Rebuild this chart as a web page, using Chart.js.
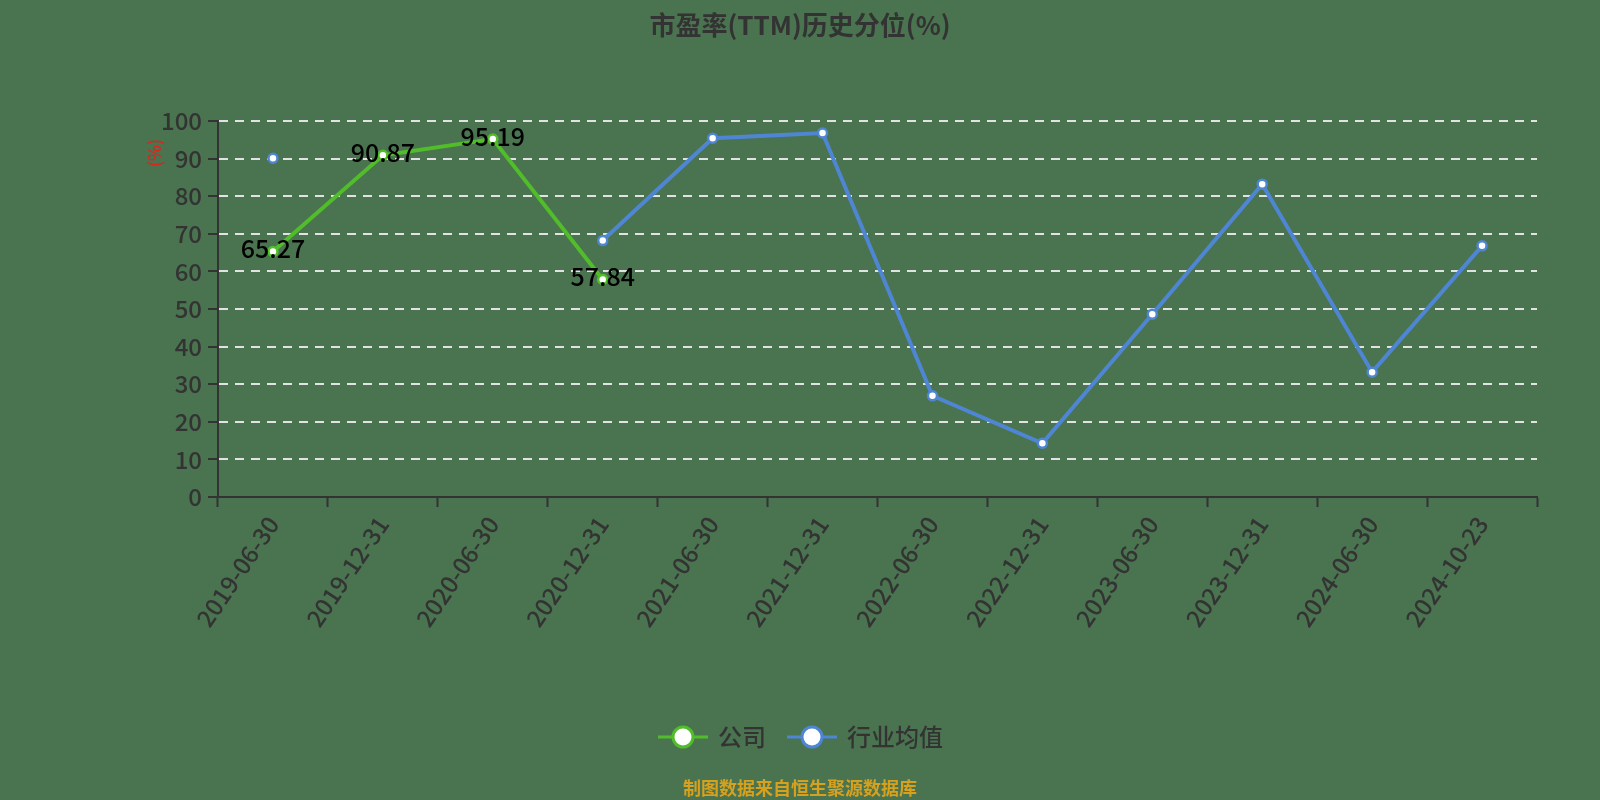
<!DOCTYPE html>
<html>
<head>
<meta charset="utf-8">
<script src="https://cdn.jsdelivr.net/npm/chart.js@4.4.0/dist/chart.umd.min.js"></script>
<style>
  html, body { margin: 0; padding: 0; background: #4a7350; }
  #wrap { width: 1600px; height: 800px; position: relative; }
</style>
</head>
<body>
<div id="wrap"><canvas id="chart"></canvas></div>
<script>
// chart values
const dates = [
  "2019-06-30", "2019-12-31", "2020-06-30", "2020-12-31", "2021-06-30", "2021-12-31",
  "2022-06-30", "2022-12-31", "2023-06-30", "2023-12-31", "2024-06-30", "2024-10-23",
];
const company = [65.27, 90.87, 95.19, 57.84, null, null, null, null, null, null, null, null];
const industry = [90.1, null, null, 68.2, 95.4, 96.8, 26.9, 14.3, 48.6, 83.2, 33.2, 66.8];
const seriesNames = ["公司", "行业均值"];
const yTicks = [0, 10, 20, 30, 40, 50, 60, 70, 80, 90, 100];

const titleText = "市盈率(TTM)历史分位(%)";
const yName = "(%)";
const sourceText = "制图数据来自恒生聚源数据库";

const FONT = '"Noto Sans CJK SC", "Noto Sans", sans-serif';
const GREEN = "#52bd2a";
const BLUE = "#4f86d3";
const DARK = "#333333";

// background, title, axis name, legend, footer and value labels
const decorPlugin = {
  id: "decor",
  beforeDraw: (chart) => {
    const ctx = chart.ctx;
    ctx.save();
    ctx.fillStyle = "#4a7350";
    ctx.fillRect(0, 0, chart.width, chart.height);
    ctx.restore();
  },
  afterDraw: (chart) => {
    const ctx = chart.ctx;
    ctx.save();

    // title
    ctx.fillStyle = DARK;
    ctx.font = `bold 26px ${FONT}`;
    ctx.textAlign = "center";
    ctx.textBaseline = "middle";
    ctx.fillText(titleText, 800, 25);

    // y axis name
    ctx.save();
    ctx.translate(155, 153);
    ctx.rotate(-Math.PI / 2);
    ctx.fillStyle = "#e0231c";
    ctx.font = `500 17px ${FONT}`;
    ctx.fillText(yName, 0, 0);
    ctx.restore();

    // value labels for the company series
    const meta = chart.getDatasetMeta(0);
    ctx.fillStyle = "#000";
    ctx.font = `500 25px ${FONT}`;
    meta.data.forEach((pt, i) => {
      if (company[i] === null) return;
      ctx.fillText(company[i].toFixed(2), pt.x, pt.y - 3);
    });

    // legend
    const items = [
      { name: seriesNames[0], color: GREEN, x: 658 },
      { name: seriesNames[1], color: BLUE, x: 787 },
    ];
    const ly = 737;
    items.forEach((it) => {
      ctx.strokeStyle = it.color;
      ctx.lineWidth = 3;
      ctx.beginPath();
      ctx.moveTo(it.x, ly);
      ctx.lineTo(it.x + 50, ly);
      ctx.stroke();
      ctx.beginPath();
      ctx.arc(it.x + 25, ly, 10, 0, Math.PI * 2);
      ctx.fillStyle = "#fff";
      ctx.fill();
      ctx.lineWidth = 3;
      ctx.stroke();
      ctx.fillStyle = DARK;
      ctx.font = `500 24px ${FONT}`;
      ctx.textAlign = "left";
      ctx.fillText(it.name, it.x + 60, ly);
    });

    // footer
    ctx.fillStyle = "#d6a11f";
    ctx.font = `bold 18px ${FONT}`;
    ctx.textAlign = "center";
    ctx.fillText(sourceText, 800, 788);

    ctx.restore();
  },
};

new Chart(document.getElementById("chart"), {
  type: "line",
  data: {
    labels: dates,
    datasets: [
      {
        label: seriesNames[0],
        data: company,
        borderColor: GREEN,
        backgroundColor: "#fff",
        borderWidth: 4,
        pointRadius: 4.5,
        pointBorderWidth: 2.5,
        pointBackgroundColor: "#fff",
        pointBorderColor: GREEN,
        spanGaps: false,
        tension: 0,
      },
      {
        label: seriesNames[1],
        data: industry,
        borderColor: BLUE,
        backgroundColor: "#fff",
        borderWidth: 4,
        pointRadius: 4.5,
        pointBorderWidth: 2.5,
        pointBackgroundColor: "#fff",
        pointBorderColor: BLUE,
        spanGaps: false,
        tension: 0,
      },
    ],
  },
  options: {
    responsive: true,
    maintainAspectRatio: false,
    animation: false,
    devicePixelRatio: 1,
    layout: {
      padding: { top: 121, right: 63, left: 0, bottom: 0 },
    },
    plugins: {
      legend: { display: false },
      title: { display: false },
      tooltip: { enabled: false },
    },
    scales: {
      x: {
        type: "category",
        offset: true,
        afterFit: (scale) => {
          scale.height = 303;
        },
        grid: {
          offset: true,
          drawOnChartArea: false,
          drawTicks: true,
          tickLength: 10,
          tickColor: DARK,
          tickWidth: 2,
        },
        border: { display: true, color: DARK, width: 2 },
        ticks: {
          autoSkip: false,
          minRotation: 56,
          maxRotation: 56,
          color: DARK,
          padding: 4,
          font: { family: FONT, size: 24, weight: "500" },
        },
      },
      y: {
        min: 0,
        max: 100,
        afterFit: (scale) => {
          scale.width = 218;
        },
        afterBuildTicks: (scale) => {
          scale.ticks = yTicks.map((v) => ({ value: v }));
        },
        grid: {
          color: (c) => (c.tick && c.tick.value === 0 ? "rgba(0,0,0,0)" : "#e2e2e2"),
          lineWidth: 2,
          drawTicks: true,
          tickLength: 10,
          tickColor: DARK,
          tickWidth: 2,
          tickBorderDash: [],
        },
        border: { display: true, color: DARK, width: 2, dash: [9, 7] },
        ticks: {
          color: DARK,
          padding: 6,
          font: { family: FONT, size: 24, weight: "500" },
        },
      },
    },
  },
  plugins: [decorPlugin],
});
</script>
</body>
</html>
